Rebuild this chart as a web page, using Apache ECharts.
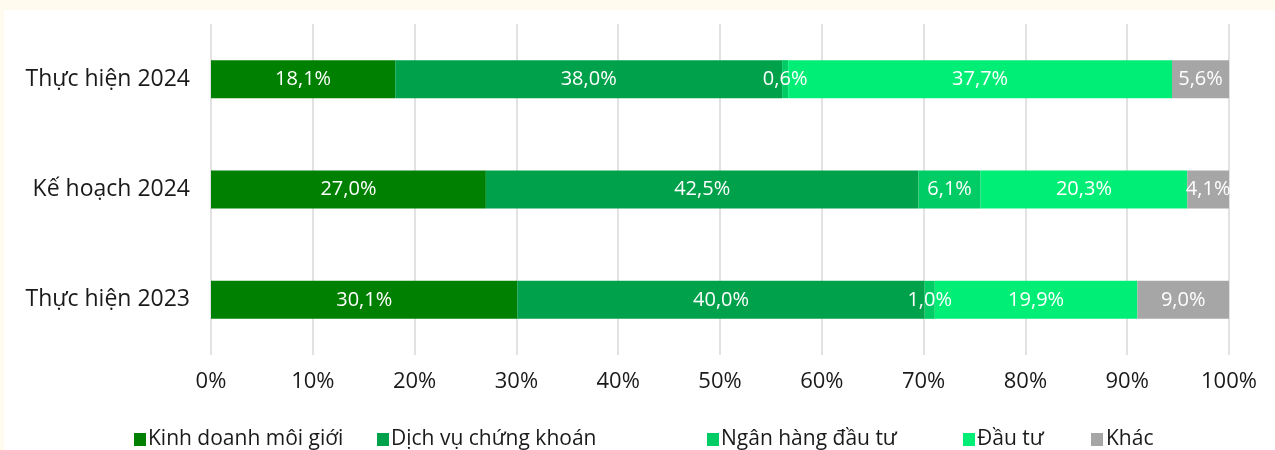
<!DOCTYPE html>
<html>
<head>
<meta charset="utf-8">
<script src="https://cdn.jsdelivr.net/npm/echarts@6/dist/echarts.min.js"></script>
<style>
html,body{margin:0;padding:0;background:#FFFBEE;width:1275px;height:450px;overflow:hidden;}
#chart{position:absolute;left:4px;top:10px;width:1271px;height:440px;background:#ffffff;}
</style>
</head>
<body>
<div id="chart"></div>
<script>
const categories = ['Thực hiện 2024', 'Kế hoạch 2024', 'Thực hiện 2023'];
const seriesNames = ['Kinh doanh môi giới', 'Dịch vụ chứng khoán', 'Ngân hàng đầu tư', 'Đầu tư', 'Khác'];
const kinhDoanh = [18.1, 27.0, 30.1];
const dichVu = [38.0, 42.5, 40.0];
const nganHang = [0.6, 6.1, 1.0];
const dauTu = [37.7, 20.3, 19.9];
const khac = [5.6, 4.1, 9.0];
const xTicks = [0, 10, 20, 30, 40, 50, 60, 70, 80, 90, 100];

const colors = ['#008000', '#00A14B', '#00CC66', '#00EE76', '#A6A6A6'];
const values = [kinhDoanh, dichVu, nganHang, dauTu, khac];
const legendLeft = [130, 373, 703, 959, 1087];
const FONT = '"Open Sans", sans-serif';

const chart = echarts.init(document.getElementById('chart'));
chart.setOption({
  animation: false,
  backgroundColor: '#ffffff',
  textStyle: { fontFamily: FONT },
  grid: { left: 207, right: 46, top: 14, bottom: 95, containLabel: false },
  legend: seriesNames.map((name, i) => ({
    data: [name],
    left: legendLeft[i],
    top: 419,
    itemWidth: 12,
    itemHeight: 13,
    icon: 'rect',
    padding: 0,
    textStyle: {
      fontFamily: FONT, fontSize: 21, color: '#1a1a1a',
      padding: i === seriesNames.length - 1 ? [0, 0, 12, -2] : [0, 0, 0, -3]
    }
  })),
  xAxis: {
    type: 'value',
    min: xTicks[0],
    max: xTicks[xTicks.length - 1],
    interval: 10,
    axisLine: { show: false },
    axisTick: { show: false },
    axisLabel: { formatter: '{value}%', fontFamily: FONT, fontSize: 22, color: '#1a1a1a', margin: 16 },
    splitLine: { show: true, lineStyle: { color: '#D9D9D9', width: 1.5 } }
  },
  yAxis: {
    type: 'category',
    data: categories,
    inverse: true,
    axisLine: { show: false },
    axisTick: { show: false },
    axisLabel: { fontFamily: FONT, fontSize: 23, color: '#1a1a1a', margin: 21 }
  },
  series: seriesNames.map((name, i) => ({
    name: name,
    type: 'bar',
    stack: 'total',
    barWidth: 38,
    itemStyle: { color: colors[i] },
    label: {
      show: true,
      position: 'inside',
      color: '#ffffff',
      fontFamily: FONT,
      fontSize: 20,
      formatter: p => p.value.toFixed(1).replace('.', ',') + '%'
    },
    data: values[i]
  }))
});
</script>
</body>
</html>
